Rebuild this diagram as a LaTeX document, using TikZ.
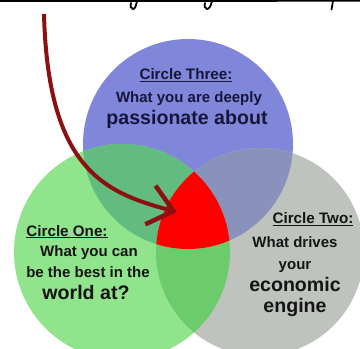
\documentclass[tikz,border=0pt]{standalone}
\usepackage{fontspec}
\setmainfont{Liberation Sans}
\usetikzlibrary{arrows.meta}

\definecolor{passionblue}{RGB}{128,134,218}
\definecolor{bestgreen}{RGB}{144,228,140}
\definecolor{enginegray}{RGB}{190,195,190}
\definecolor{bluegreen}{RGB}{98,188,128}
\definecolor{bluegray}{RGB}{136,146,186}
\definecolor{greengray}{RGB}{108,204,108}
\definecolor{coreRed}{RGB}{255,0,0}
\definecolor{arrowred}{RGB}{140,16,18}
\definecolor{navytext}{RGB}{22,22,58}
\definecolor{darktext}{RGB}{20,20,20}

\begin{document}
\begin{tikzpicture}[x=1pt,y=-1pt,
  ink/.style={draw=black, line width=1.8pt, line cap=round},
  heading/.style={anchor=base, inner sep=0pt, font=\bfseries\fontsize{15.2}{18}\selectfont},
  bodytext/.style={anchor=base, inner sep=0pt, font=\bfseries\fontsize{15}{17}\selectfont},
  bigtext/.style={anchor=base, inner sep=0pt, font=\bfseries\fontsize{19.6}{22}\selectfont},
  pointer/.style={draw=arrowred, line width=4pt,
    -{Straight Barb[length=24pt,width=40pt,line width=4.5pt]}}]

\useasboundingbox (0,0) rectangle (360,349);
\fill[white] (0,0) rectangle (360,349);

% the three circles
\fill[passionblue] (188,144) circle[radius=105];
\fill[bestgreen] (122,252) circle[radius=108];
\fill[enginegray] (260,252) circle[radius=104];

% pairwise overlaps
\begin{scope}
  \clip (188,144) circle[radius=105];
  \fill[bluegreen] (122,252) circle[radius=108];
  \fill[bluegray] (260,252) circle[radius=104];
\end{scope}
\begin{scope}
  \clip (122,252) circle[radius=108];
  \fill[greengray] (260,252) circle[radius=104];
  % the common core of all three
  \clip (260,252) circle[radius=104];
  \fill[coreRed] (188,144) circle[radius=105];
\end{scope}

% handwriting strokes cut off along the top edge
\draw[ink] (0,1) -- (360,0.8);
\draw[ink] (137,1) .. controls (136,6) and (135,9) .. (133,9)
  .. controls (131,9) and (130,6) .. (131,3);
\draw[ink] (212,1) .. controls (211,6) and (209,9) .. (207,9)
  .. controls (205,9) and (204,6) .. (205,3);
\draw[ink] (333,1) -- (331.5,9.5);

% Circle Three
\node[heading, text=navytext] (threehead) at (186,79.5) {\underline{Circle Three:}};
\node[bodytext, text=navytext] (threeline1) at (189,102.7) {What you are deeply};
\node[bigtext, text=navytext] (threeline2) at (187,124) {passionate about};

% Circle One
\node[heading, text=darktext] (onehead) at (67,236) {\underline{Circle One:}};
\node[bodytext, text=darktext] (oneline1) at (89,256) {What you can};
\node[bodytext, text=darktext] (oneline2) at (88,277.3) {be the best in the};
\node[bigtext, text=darktext] (oneline3) at (86,299.3) {world at?};

% Circle Two
\node[heading, text=darktext] (twohead) at (313,223.3) {\underline{Circle Two:}};
\node[bodytext, text=darktext] (twoline1) at (295,247.7) {What drives};
\node[bodytext, text=darktext] (twoline2) at (295,269.5) {your};
\node[bigtext, text=darktext] (twoline3) at (295,291.7) {economic};
\node[bigtext, text=darktext] (twoline4) at (295,312.3) {engine};

% arrow into the core
\coordinate (arrowtail) at (44,14);
\coordinate (core) at (177,212);
\draw[pointer] (arrowtail) .. controls (48,170) and (105,193) .. (core);

\end{tikzpicture}
\end{document}
